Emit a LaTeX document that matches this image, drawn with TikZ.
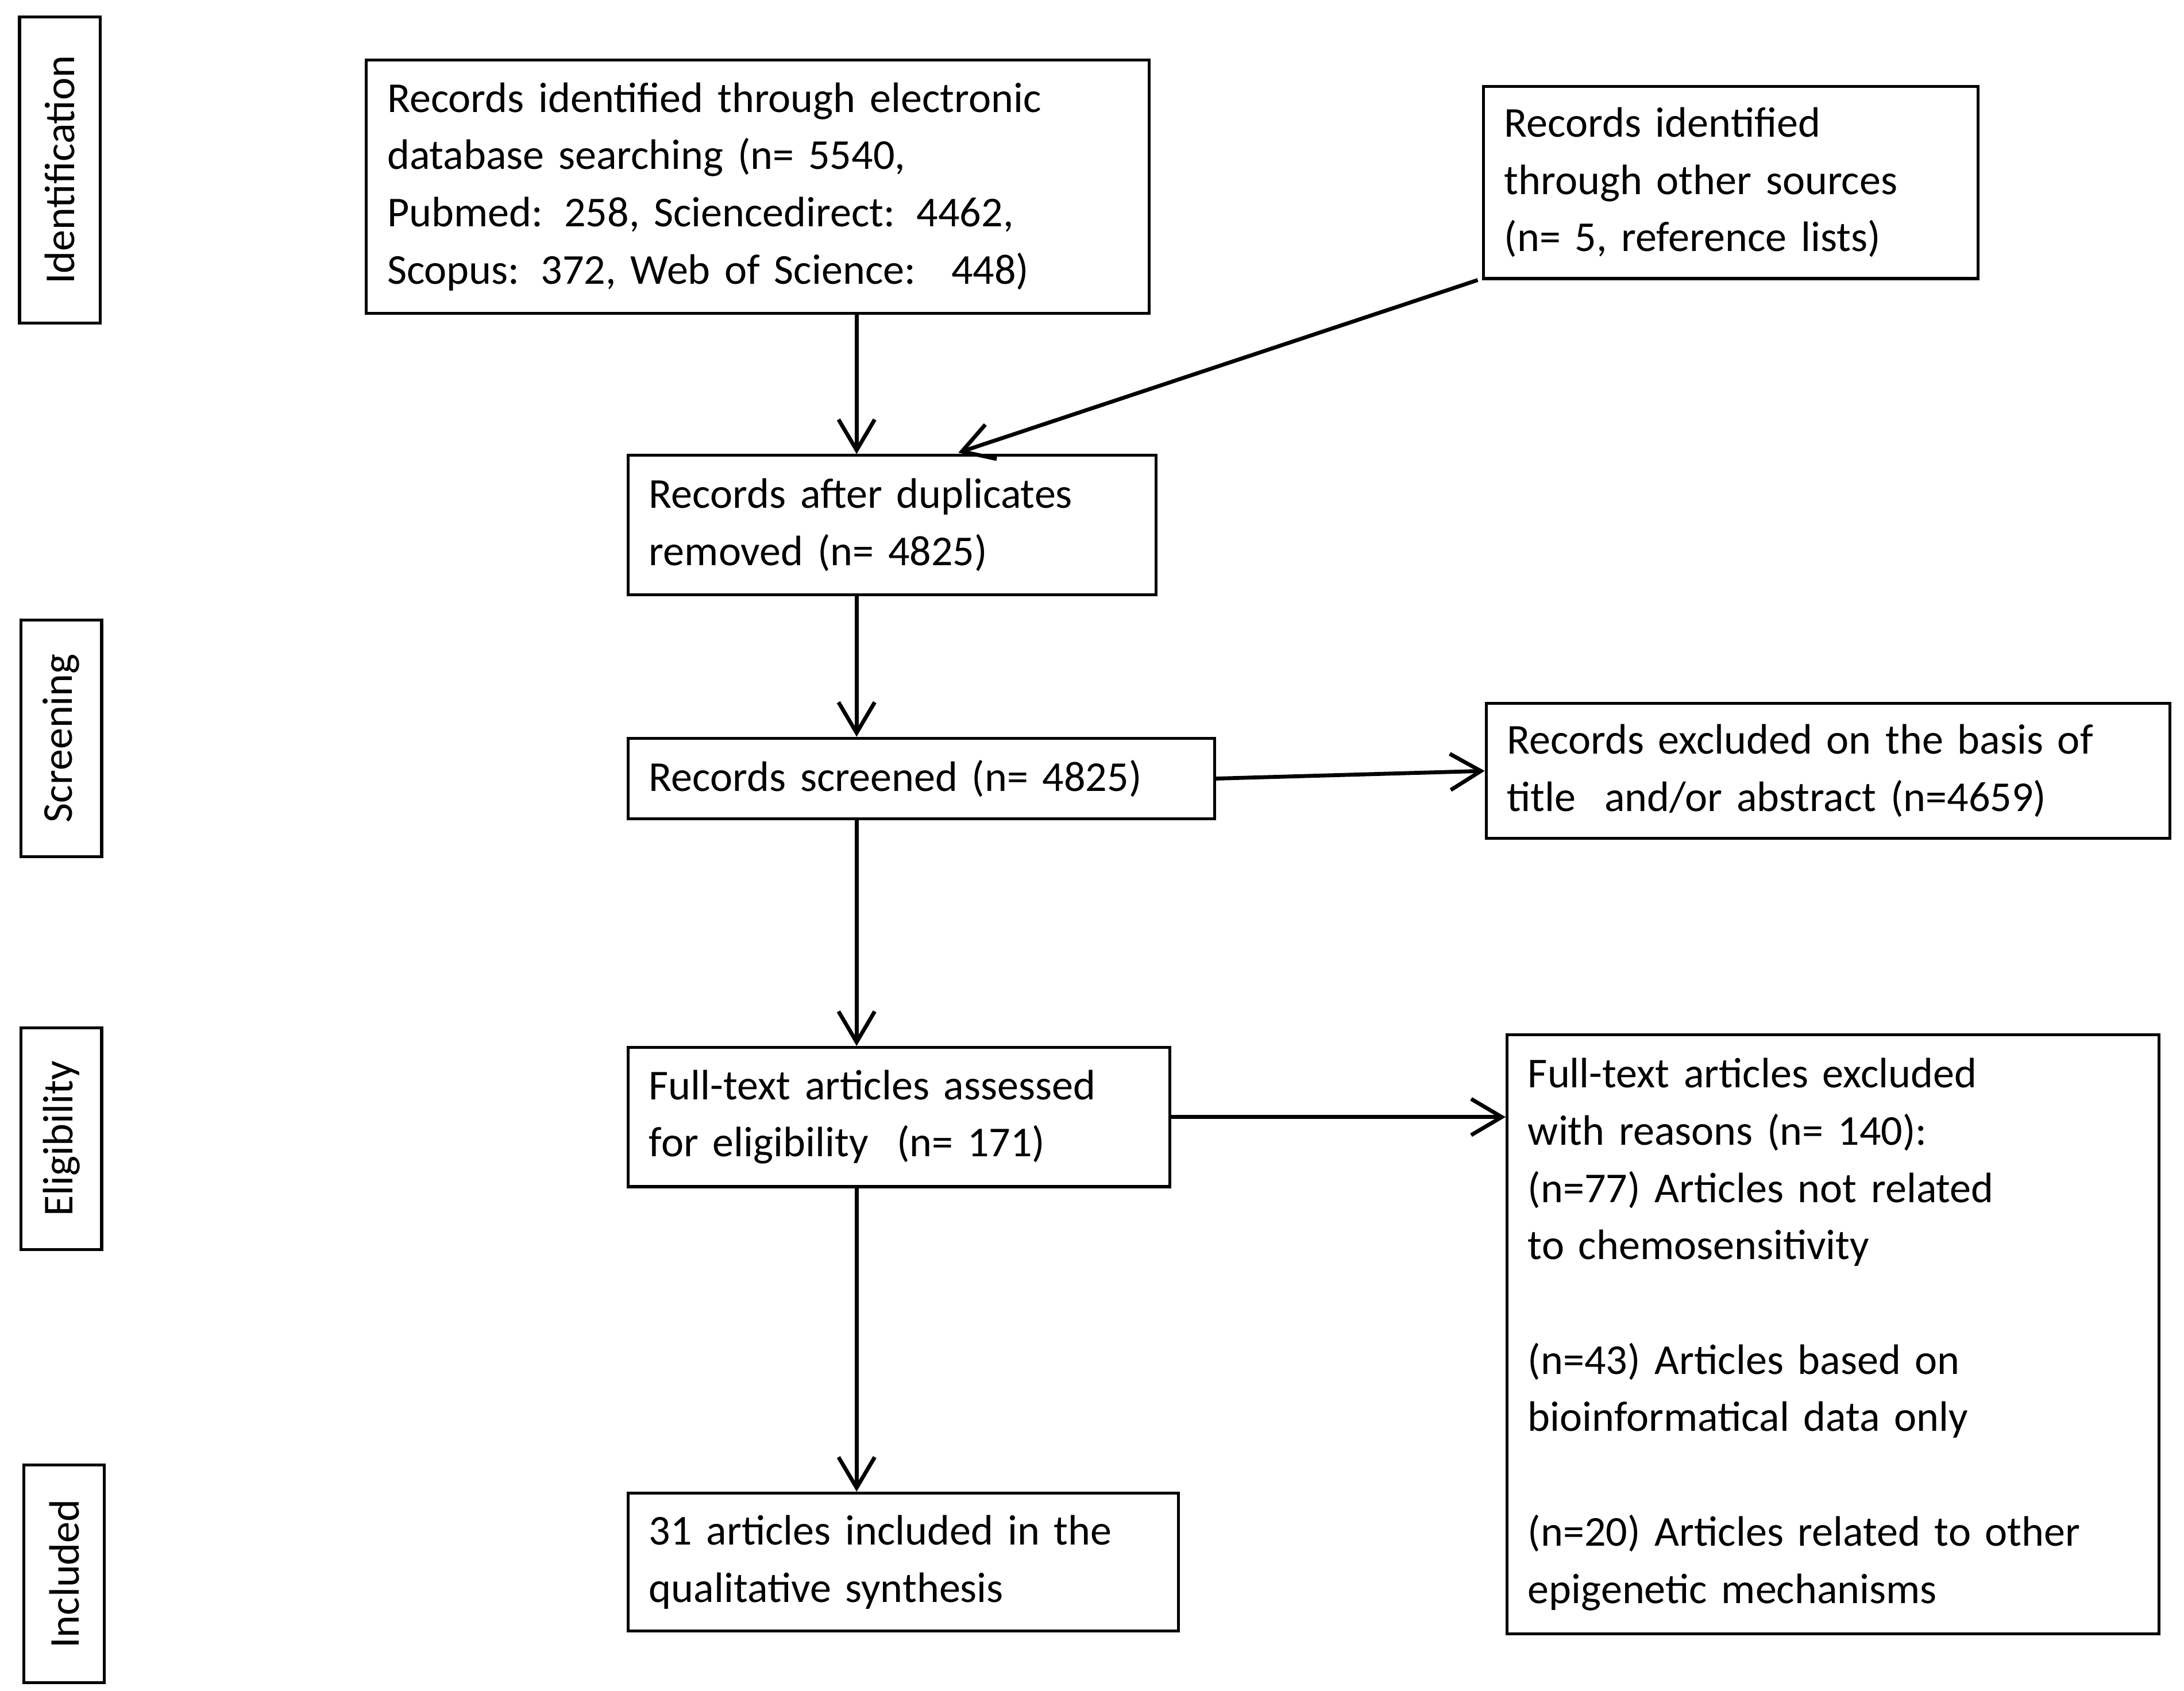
\documentclass[tikz,border=0pt]{standalone}
\usepackage{fontspec}
\setmainfont{Carlito}
\usetikzlibrary{arrows.meta}

\begin{document}
\begin{tikzpicture}[>={Straight Barb[length=2.2mm,width=2.6mm]},
    box/.style={rectangle,draw,line width=0.6pt,align=left,inner xsep=0.15cm,inner ysep=0pt,
      font=\fontsize{8.7pt}{11.7pt}\selectfont},
    stage/.style={rectangle,draw,line width=0.6pt,rotate=90,inner sep=0pt,minimum height=0.58cm,
      font=\fontsize{8.7pt}{11.7pt}\selectfont},
    flow/.style={->,line width=0.8pt}]
    \useasboundingbox (0,0) rectangle (15.68,-12.14);

    % stage labels
    \node [stage,minimum width=2.2cm]  (ident)  at (0.43,-1.22)  {Identification};
    \node [stage,minimum width=1.7cm]  (screen) at (0.44,-5.30)  {Screening};
    \node [stage,minimum width=1.59cm] (elig)   at (0.44,-8.175) {Eligibility};
    \node [stage,minimum width=1.56cm] (incl)   at (0.46,-11.30) {Included};

    % boxes
    \node [box,text width=5.32cm,minimum height=1.82cm] (dbsearch) at (5.44,-1.34)
      {Records identified through electronic\\database searching (n= 5540,\\Pubmed: 258, Sciencedirect: 4462,\\Scopus: 372, Web of Science:~ 448)};
    \node [box,text width=3.25cm,minimum height=1.38cm] (other) at (12.425,-1.31)
      {Records identified\\through other sources\\(n= 5, reference lists)};
    \node [box,text width=3.49cm,minimum height=1.0cm] (dupl) at (6.405,-3.77)
      {Records after duplicates\\removed (n= 4825)};
    \node [box,text width=3.91cm,minimum height=0.58cm] (screened) at (6.615,-5.59)
      {Records screened (n= 4825)};
    \node [box,text width=4.61cm,minimum height=0.97cm] (excl) at (13.125,-5.535)
      {Records excluded on the basis of\\title~ and/or abstract (n=4659)};
    \node [box,text width=3.59cm,minimum height=1.0cm] (fulltext) at (6.455,-8.02)
      {Full-text articles assessed\\for eligibility~ (n= 171)};
    \node [box,text width=4.38cm,minimum height=4.30cm] (reasons) at (13.16,-9.58)
      {Full-text articles excluded\\with reasons (n= 140):\\(n=77) Articles not related\\to chemosensitivity\\[11.7pt](n=43) Articles based on\\bioinformatical data only\\[11.7pt](n=20) Articles related to other\\epigenetic mechanisms};
    \node [box,text width=3.65cm,minimum height=0.99cm] (included) at (6.485,-11.215)
      {31 articles included in the\\qualitative synthesis};

    % connectors
    \draw [flow] (dbsearch.south -| 6.15,0) -- (dupl.north -| 6.15,0);
    \draw [flow] (other.south west) ++(-0.03,0) coordinate (o1) -- (6.88,-3.25) coordinate (o2);
    \draw [flow] (dupl.south -| 6.15,0) -- (screened.north -| 6.15,0);
    \draw [flow] (screened.east) -- (excl.west);
    \draw [flow] (screened.south -| 6.15,0) -- (fulltext.north -| 6.15,0);
    \draw [flow] (fulltext.east) -- (reasons.west |- fulltext.east);
    \draw [flow] (fulltext.south -| 6.15,0) -- (included.north -| 6.15,0);
\end{tikzpicture}
\end{document}
